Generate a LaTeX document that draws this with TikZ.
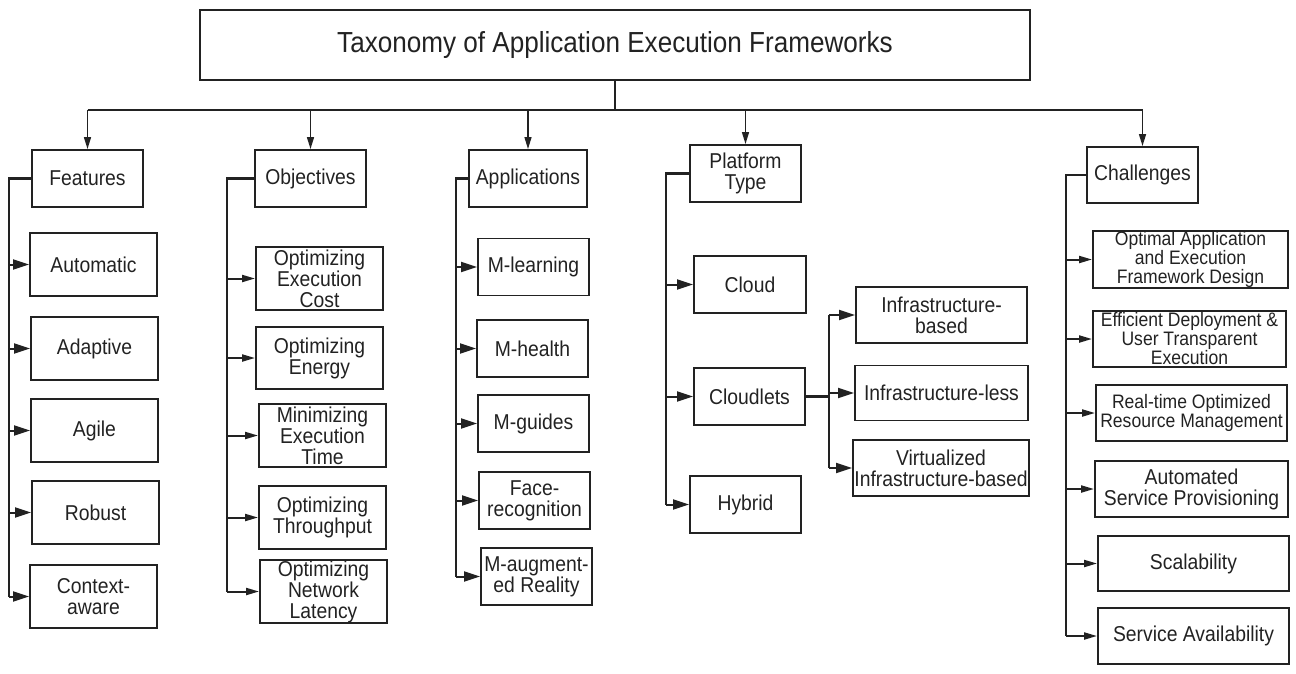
\documentclass[tikz,border=0pt]{standalone}
\usepackage{fontspec}
\setmainfont{Liberation Sans}[FakeStretch=0.9]
\usetikzlibrary{arrows.meta}
\definecolor{ink}{HTML}{222222}
\begin{document}
\begin{tikzpicture}[x=1pt,y=-1pt,
  box/.style={draw=ink, line width=1.9pt, align=center, inner sep=0pt,
    text=ink, font=\fontsize{21.5}{21}\selectfont},
  cbox/.style={box, font=\fontsize{19.5}{19}\selectfont},
  sz/.style 2 args={minimum width=#1pt, minimum height=#2pt},
  spine/.style={draw=ink, line width=2.3pt},
  arr/.style={draw=ink, line width=2pt, -{Triangle[length=16pt,width=10pt]}},
  arrs/.style={draw=ink, line width=2pt, -{Triangle[length=13pt,width=7pt]}},
  drop/.style={draw=ink, line width=1.4pt, -{Triangle[length=12pt,width=7pt]}},
  bus/.style={draw=ink, line width=2pt}]
\useasboundingbox (0,0) rectangle (1296,673);

% root
\node[box, sz={830}{70}, font=\fontsize{29}{30}\selectfont] (root) at (615,45)
  {Taxonomy of Application Execution Frameworks};

% first level
\node[box, sz={111}{57}] (feat) at (87.5,178.5) {Features};
\node[box, sz={111}{57}] (obj)  at (310.5,178.5) {Objectives};
\node[box, sz={118}{57}] (app)  at (528,178.5) {Applications};
\node[box, sz={111}{57}] (plat) at (745.5,173.5) {Platform\\Type};
\node[box, sz={111}{56}] (chal) at (1142.5,175) {Challenges};

% root to first level
\coordinate (b) at (615,110);
\draw[bus] (root.south) -- (b);
\draw[bus] (b -| feat) -- (b -| chal);
\foreach \n in {feat,obj,app,plat,chal}
  \draw[drop] (b -| \n) -- (\n.north);

% features
\node[box, sz={127}{63}] (f1) at (93.5,264.5) {Automatic};
\node[box, sz={127}{63}] (f2) at (94.5,348.5) {Adaptive};
\node[box, sz={127}{63}] (f3) at (94.5,430.5) {Agile};
\node[box, sz={127}{63}] (f4) at (95.5,512.5) {Robust};
\node[box, sz={127}{63}] (f5) at (93.5,596.5) {Context-\\aware};
\coordinate (fs) at (9,0);
\draw[spine] (feat.west) -- (feat.west -| fs) -- (f5.west -| fs);
\foreach \n in {f1,f2,f3,f4,f5}
  \draw[arr] (\n.west -| fs) -- (\n.west);

% objectives
\node[box, sz={127}{63}] (o1) at (319.5,278.5) {Optimizing\\Execution\\Cost};
\node[box, sz={127}{62}] (o2) at (319.5,358) {Optimizing\\Energy};
\node[box, sz={127}{63}] (o3) at (322.5,435.5) {Minimizing\\Execution\\Time};
\node[box, sz={127}{63}] (o4) at (322.5,517.5) {Optimizing\\Throughput};
\node[box, sz={127}{63}] (o5) at (323.5,591.5) {Optimizing\\Network\\Latency};
\coordinate (os) at (227,0);
\draw[spine] (obj.west) -- (obj.west -| os) -- (o5.west -| os);
\foreach \n in {o1,o2,o3,o4,o5}
  \draw[arrs] (\n.west -| os) -- (\n.west);

% applications
\node[box, sz={111}{57}] (a1) at (533.5,267) {M-learning};
\node[box, sz={111}{57}] (a2) at (532.5,348.5) {M-health};
\node[box, sz={111}{57}] (a3) at (533.5,423.5) {M-guides};
\node[box, sz={111}{57}] (a4) at (534.5,500.5) {Face-\\recognition};
\node[box, sz={111}{57}] (a5) at (536.5,576.5) {M-augment-\\ed Reality};
\coordinate (as) at (456,0);
\draw[spine] (app.west) -- (app.west -| as) -- (a5.west -| as);
\foreach \n in {a1,a2,a3,a4,a5}
  \draw[arr] (\n.west -| as) -- (\n.west);

% platform type
\node[box, sz={112}{57}] (p1) at (750,284.5) {Cloud};
\node[box, sz={111}{57}] (p2) at (749.5,396.5) {Cloudlets};
\node[box, sz={111}{57}] (p3) at (745.5,504.5) {Hybrid};
\coordinate (ps) at (666,0);
\draw[spine] (plat.west) -- (plat.west -| ps) -- (p3.west -| ps);
\foreach \n in {p1,p2,p3}
  \draw[arr] (\n.west -| ps) -- (\n.west);

% cloudlet kinds
\node[box, sz={171}{56}] (c1) at (941.5,315) {Infrastructure-\\based};
\node[box, sz={173}{55}] (c2) at (941.5,393) {Infrastructure-less};
\node[box, sz={176}{56}] (c3) at (941,468) {Virtualized\\Infrastructure-based};
\coordinate (cs) at (829,0);
\draw[spine] (p2.east) -- (p2.east -| cs);
\draw[spine] (c1.west -| cs) -- (c3.west -| cs);
\foreach \n in {c1,c2,c3}
  \draw[arr] (\n.west -| cs) -- (\n.west);

% challenges
\node[cbox, sz={195}{55}] (h1) at (1190.5,259.5) {Optimal Application\\and Execution\\Framework Design};
\node[cbox, sz={193}{56}] (h2) at (1189.5,339) {Efficient Deployment \&\\User Transparent\\Execution};
\node[cbox, sz={191}{56}] (h3) at (1191.5,413) {Real-time Optimized\\Resource Management};
\node[box, sz={193}{56}] (h4) at (1191.5,489) {Automated\\Service Provisioning};
\node[box, sz={191}{55}] (h5) at (1193.5,563.5) {Scalability};
\node[box, sz={191}{56}] (h6) at (1193.5,636) {Service Availability};
\coordinate (hs) at (1066,0);
\draw[spine] (chal.west) -- (chal.west -| hs) -- (h6.west -| hs);
\foreach \n in {h1,h2,h3,h4,h5,h6}
  \draw[arrs] (\n.west -| hs) -- (\n.west);
\end{tikzpicture}
\end{document}
